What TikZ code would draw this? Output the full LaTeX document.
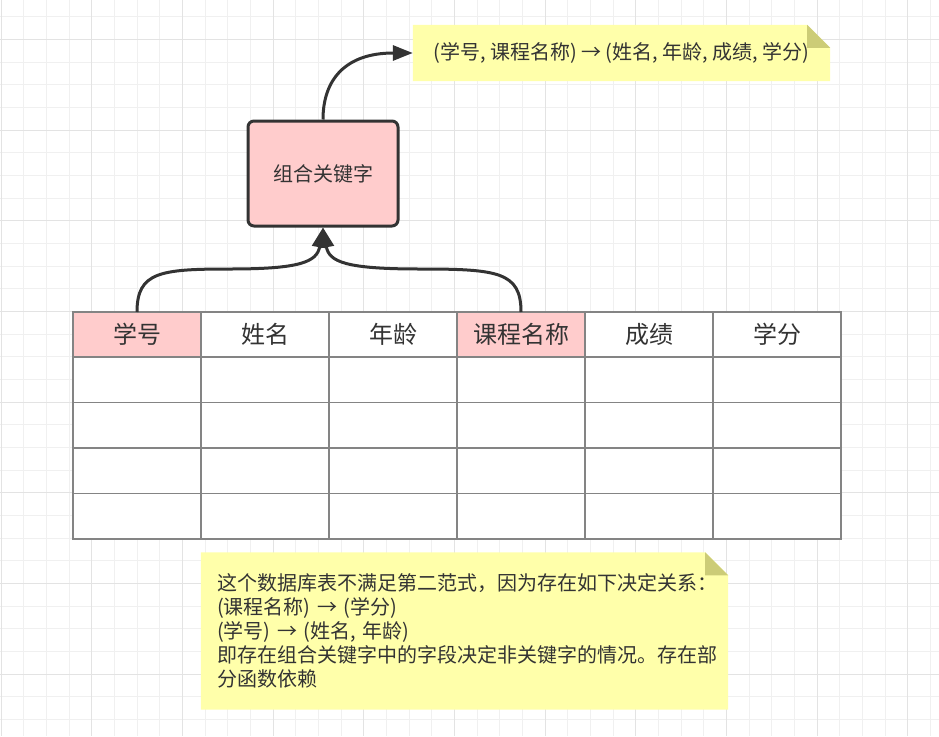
\documentclass[tikz,border=0pt]{standalone}
\usepackage{fontspec}
\setmainfont{Noto Sans CJK SC}
\usetikzlibrary{arrows.meta,calc,positioning,backgrounds}

\definecolor{ink}{HTML}{333333}
\definecolor{keypink}{HTML}{FFCCCC}
\definecolor{notefill}{HTML}{FFFFAA}
\definecolor{notefold}{HTML}{CCCC77}
\definecolor{cellline}{HTML}{848484}
\definecolor{gridminor}{HTML}{F0F0F0}
\definecolor{gridmajor}{HTML}{E3E3E3}

\tikzset{
  keybox/.style={draw=ink, line width=3pt, rounded corners=6pt, fill=keypink,
    minimum width=150pt, minimum height=105pt, text=ink,
    font=\fontsize{20}{24}\selectfont},
  cell/.style={draw=cellline, line width=1.6pt, outer sep=0pt, inner sep=0pt,
    minimum width=128pt, minimum height=45pt, text=ink,
    font=\fontsize{24}{28}\selectfont},
  note/.style={inner sep=0pt, text=ink, font=\fontsize{20}{24}\selectfont},
  tableline/.style={draw=cellline, line width=1.6pt},
  dep/.style={draw=ink, line width=3pt, -{Triangle[length=20pt,width=15pt]}},
}

% yellow sheet with folded top right corner behind a note node
\newcommand{\notesheet}[1]{%
  \fill[notefill] (#1.south west) |- ($(#1.north east)+(-23,0)$)
    -- ($(#1.north east)+(0,23)$) |- (#1.south west) -- cycle;
  \fill[notefold] ($(#1.north east)+(-23,0)$) -- ($(#1.north east)+(0,23)$)
    -- ($(#1.north east)+(-23,23)$) -- cycle;
}

\begin{document}
\begin{tikzpicture}[x=1pt, y=-1pt]
  \useasboundingbox (0,0) rectangle (939,736);
  % background grid
  \begin{scope}[on background layer]
    \fill[white] (0,0) rectangle (939,736);
    \foreach \i in {0,...,41} \draw[gridminor, line width=1pt] ({1+22.667*\i},0) -- ++(0,736);
    \foreach \j in {0,...,33} \draw[gridminor, line width=1pt] (0,{-6+22.667*\j}) -- ++(939,0);
    \foreach \i in {0,...,10} \draw[gridmajor, line width=1pt] ({1+90.667*\i},0) -- ++(0,736);
    \foreach \j in {0,...,9} \draw[gridmajor, line width=1pt] (0,{-51.333+90.667*\j}) -- ++(939,0);
  \end{scope}

  % composite key box
  \node[keybox] (ckey) at (323,173.5) {组合关键字};

  % notes
  \node[note, minimum width=417pt, minimum height=56pt] (fdnote) at (621.5,53)
    {(学号, 课程名称) → (姓名, 年龄, 成绩, 学分)};
  \node[note, minimum height=157pt, text width=495pt, inner xsep=16pt, align=left,
    baseline] (nfnote) at (464.5,631)
    {这个数据库表不满足第二范式，因为存在如下决定关系：\\
     (课程名称) → (学分)\\
     (学号) → (姓名, 年龄)\\
     即存在组合关键字中的字段决定非关键字的情况。存在部\\
     分函数依赖};
  \begin{scope}[on background layer]
    \notesheet{fdnote}
    \notesheet{nfnote}
  \end{scope}

  % table header
  \node[cell, fill=keypink]                (sid)    at (137,334.5) {学号};
  \node[cell, fill=white, right=0pt of sid]    (sname)  {姓名};
  \node[cell, fill=white, right=0pt of sname]  (sage)   {年龄};
  \node[cell, fill=keypink, right=0pt of sage] (course) {课程名称};
  \node[cell, fill=white, right=0pt of course] (score)  {成绩};
  \node[cell, fill=white, right=0pt of score]  (credit) {学分};

  % table body
  \fill[white] (sid.south west) rectangle ($(credit.south east)+(0,182)$);
  \draw[tableline] (sid.south west) rectangle ($(credit.south east)+(0,182)$);
  \foreach \r in {45.5,91,136.5}
    \draw[tableline] ($(sid.south west)+(0,\r)$) -- ($(credit.south east)+(0,\r)$);
  \foreach \c in {sid,sname,sage,course,score}
    \draw[tableline] (\c.south east) -- ++(0,182);

  % dependency arrows
  \draw[dep] (sid.north) .. controls (137,272) and (160,269) .. (230,269)
    .. controls (300,269) and (317,262) .. (ckey.south);
  \draw[dep] (course.north) .. controls (521,272) and (498,269) .. (420,269)
    .. controls (346,269) and (329,262) .. (ckey.south);
  \draw[dep] (ckey.north) .. controls (323,80) and (345,53) .. (fdnote.west);
\end{tikzpicture}
\end{document}
